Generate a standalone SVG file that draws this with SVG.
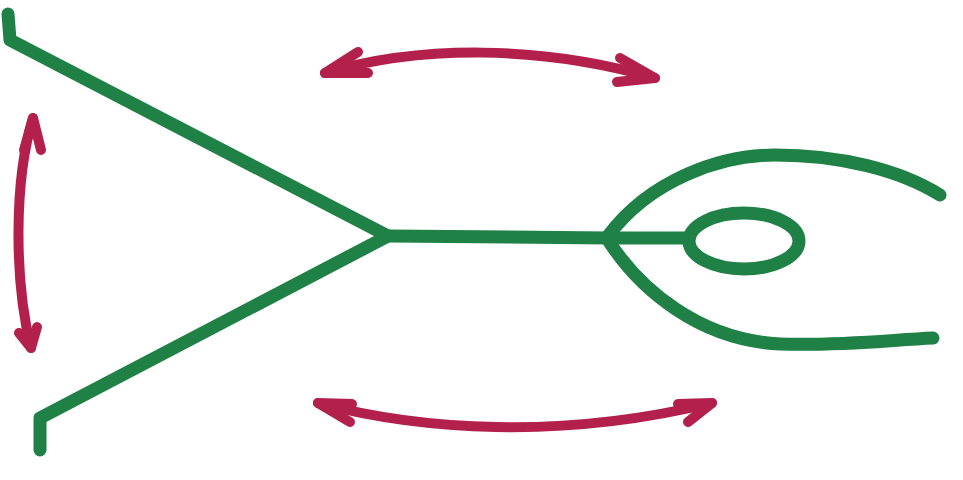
<svg xmlns="http://www.w3.org/2000/svg" width="963" height="480" viewBox="0 0 963 480">
<style>
.g{fill:none;stroke:#1f8146;stroke-width:13;stroke-linecap:round;stroke-linejoin:round}
.r{fill:none;stroke:#b3204c;stroke-width:10;stroke-linecap:round;stroke-linejoin:round}
</style>
<rect width="963" height="480" fill="#ffffff"/>
<g id="fish">
<path class="g" d="M8,14 L10,40 L388,236 L40,418 L40,450"/>
<path class="g" d="M388,236 L610,238 L688,238"/>
<ellipse class="g" cx="744" cy="241" rx="55" ry="28"/>
<path class="g" d="M608,236 C650,180 720,155 775,155 C840,155 900,170 940,195"/>
<path class="g" d="M608,240 C640,290 700,340 780,344 C840,346 890,340 933,338"/>
</g>
<g id="connectors">
<path class="r" d="M325,73 C420,45 540,45 655,78"/>
<path class="r" d="M358,52 L325,73 L368,73"/>
<path class="r" d="M620,58 L655,78 L617,82"/>
<path class="r" d="M318,403 C420,430 560,440 712,403"/>
<path class="r" d="M352,404 L318,403 L350,422"/>
<path class="r" d="M678,404 L712,403 L688,422"/>
<path class="r" d="M33,118 C14,180 14,280 31,348"/>
<path class="r" d="M24,150 L33,118 L41,150"/>
<path class="r" d="M19,333 L31,348 L37,327"/>
</g>
</svg>
